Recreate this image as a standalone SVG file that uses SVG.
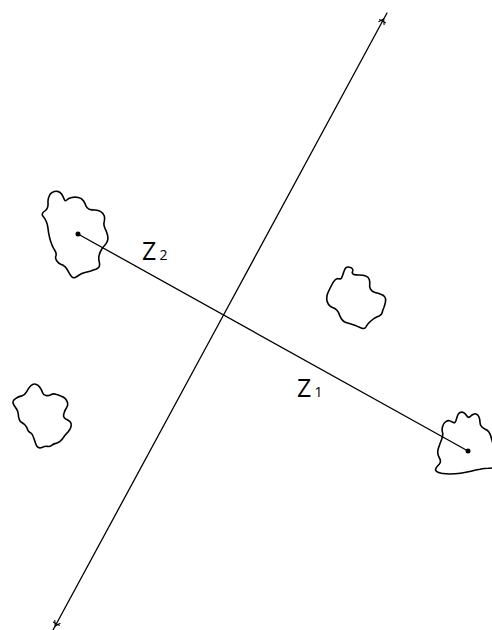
<svg xmlns="http://www.w3.org/2000/svg" width="492" height="630" viewBox="0 0 492 630">
<style>
.ln{fill:none;stroke:#000;stroke-width:1.3;stroke-linecap:round}
.cl{fill:none;stroke:#000;stroke-width:1.6;stroke-linejoin:round}
.dot{fill:#000}
.lbl{font-family:"Open Sans","DejaVu Sans",sans-serif;fill:#000}
</style>
<defs>
<marker id="tk" markerUnits="userSpaceOnUse" viewBox="-7 -7 14 14" markerWidth="14" markerHeight="14" refX="0" refY="0" orient="auto" overflow="visible">
<path d="M-5,-3.2 L0,0 L-5,3.2 M-2.5,-3.8 L-2.5,3.8" fill="none" stroke="#000" stroke-width="1.1"/>
</marker>
</defs>
<rect width="492" height="630" fill="#fff"/>
<g id="connectors">
<path class="ln" d="M220.3,321 L383.7,19 L387,13" marker-mid="url(#tk)"/>
<path class="ln" d="M220.3,321 L55.2,626 L51.9,632" marker-mid="url(#tk)"/>
<path class="ln" d="M78,234 L468,451"/>
</g>
<g id="cloud1">
<path class="cl" d="M48,202.5 Q47.7,200 48.9,196.7 Q50,193.3 52.5,192.2 Q55,191 57.5,191.4 Q60,191.7 61.7,194.2 Q63.3,196.7 64.2,199.2 Q65,201.7 66.7,200 Q68.3,198.3 71.7,197.5 Q75,196.7 78.4,197.5 Q81.7,198.3 83.4,200.8 Q85,203.3 85.9,205.8 Q86.7,208.3 89.2,209.2 Q91.7,210 95,210 Q98.3,210 100.8,211.7 Q103.3,213.3 104.2,215.8 Q105,218.3 104.2,221.7 Q103.3,225 105,228.4 Q106.7,231.7 107.5,235 Q108.3,238.3 107.5,240.8 Q106.7,243.3 105,245 Q103.3,246.7 101.7,249.2 Q100,251.7 99.2,255 Q98.3,258.3 99.2,261.7 Q100,265 99.2,266.7 Q98.3,268.3 95.8,269.2 Q93.3,270 90.8,270.9 Q88.3,271.7 85,272.5 Q81.7,273.3 79.2,275 Q76.7,276.7 75,277.5 Q73.3,278.3 71.7,276.7 Q70,275 68.4,271.7 Q66.7,268.3 65,266.7 Q63.3,265 60.8,264.2 Q58.3,263.3 56.7,260.8 Q55,258.3 55.9,255.8 Q56.7,253.3 55,250.8 Q53.3,248.3 51.7,244.2 Q50,240 49.2,235.9 Q48.3,231.7 48,228.4 Q47.7,225 46.4,221.7 Q45,218.3 43.4,216.7 Q41.7,215 42.5,213.4 Q43.3,211.7 45,210.9 Q46.7,210 47.5,207.5 Q48.3,205 48,202.5 Z"/>
<circle class="dot" cx="78" cy="234" r="2.5"/>
</g>
<g id="cloud2">
<path class="cl" d="M340.9,278.7 Q341.7,278.3 342.5,275.8 Q343.3,273.3 344.2,270.8 Q345,268.3 346.2,267.5 Q347.3,266.7 349.5,267.2 Q351.7,267.7 352.5,268.9 Q353.3,270 352.5,271.7 Q351.7,273.3 353.4,274.2 Q355,275 359.2,275 Q363.3,275 365.8,275.9 Q368.3,276.7 369.2,279.2 Q370,281.7 369.7,284.2 Q369.3,286.7 370.5,289.2 Q371.7,291.7 375,292.5 Q378.3,293.3 380.8,294.2 Q383.3,295 384.7,296.7 Q386,298.3 385.5,301.7 Q385,305 383.9,307.5 Q382.7,310 382.2,312.5 Q381.7,315 379.2,315.9 Q376.7,316.7 374.2,318.4 Q371.7,320 369.2,322.5 Q366.7,325 365.9,327 Q365,329 362.5,328.4 Q360,327.7 357.5,326.4 Q355,325 351.7,324.2 Q348.3,323.3 345.8,322.5 Q343.3,321.7 341.7,319.2 Q340,316.7 339.2,314.2 Q338.3,311.7 336.7,310 Q335,308.3 332.5,307.5 Q330,306.7 328.4,304.2 Q326.7,301.7 326.7,298.4 Q326.7,295 328.4,291.7 Q330,288.3 331.7,285 Q333.3,281.7 335,280 Q336.7,278.3 338.4,278.7 Q340,279 340.9,278.7 Z"/>
</g>
<g id="cloud3">
<path class="cl" d="M13,401.7 Q13.3,400 15.8,398.4 Q18.3,396.7 21.7,395.9 Q25,395 26.7,391.7 Q28.3,388.3 30.8,385.8 Q33.3,383.3 35.8,384.2 Q38.3,385 40,387.5 Q41.7,390 42.5,392.5 Q43.3,395 45.8,395.5 Q48.3,396 50.8,394.7 Q53.3,393.3 55.8,394.2 Q58.3,395 60.8,395.9 Q63.3,396.7 65,398.4 Q66.7,400 67.5,402.5 Q68.3,405 66.7,407.5 Q65,410 64.2,412.5 Q63.3,415 63.7,416.7 Q64,418.3 66.2,419.2 Q68.3,420 70,421.7 Q71.7,423.3 71.2,425.8 Q70.7,428.3 69.5,430 Q68.3,431.7 66.7,433.4 Q65,435 63.4,437.5 Q61.7,440 60,441.4 Q58.3,442.7 55.8,443.4 Q53.3,444 51.7,445.4 Q50,446.7 47.5,446.4 Q45,446 42.5,447.2 Q40,448.3 38.4,447.5 Q36.7,446.7 35.9,444.2 Q35,441.7 34.2,439.2 Q33.3,436.7 32.5,435 Q31.7,433.3 30,432.5 Q28.3,431.7 27.5,429.2 Q26.7,426.7 25,425 Q23.3,423.3 21.7,422.5 Q20,421.7 19.2,419.2 Q18.3,416.7 18.3,414.2 Q18.3,411.7 16.7,409.2 Q15,406.7 13.9,405 Q12.7,403.3 13,401.7 Z"/>
</g>
<g id="cloud4">
<path class="cl" d="M500,467 L496,467.5 Q492,468 488,468.3 Q484,468.5 480,469.3 Q476,470 471,471.3 Q466,472.5 460.5,473.3 Q455,474 450,474 Q445,474 441.5,473.3 Q438,472.5 436.5,471.3 Q435,470 435.9,468.4 Q436.7,466.7 439.2,464.2 Q441.7,461.7 439.2,457.5 Q436.7,453.3 438.4,448.3 Q440,443.3 441.7,439.2 Q443.3,435 442.5,432.5 Q441.7,430 442.5,426.7 Q443.3,423.3 445.8,421.7 Q448.3,420 450,420.9 Q451.7,421.7 453.4,422.5 Q455,423.3 455.9,420.8 Q456.7,418.3 457.5,415.8 Q458.3,413.3 460,412.5 Q461.7,411.7 463.4,412.5 Q465,413.3 466.7,415.8 Q468.3,418.3 470,416.7 Q471.7,415 473.4,414.2 Q475,413.3 476.7,414.2 Q478.3,415 479.2,417.5 Q480,420 480,422.5 Q480,425 481.7,426.7 Q483.3,428.3 485.3,429.2 Q487.3,430 488.7,431.7 Q490,433.3 490.7,435.8 Q491.3,438.3 492.7,442.7 Q494,447 497,451 L500,455"/>
<circle class="dot" cx="468" cy="451" r="2.5"/>
</g>
<g id="label-z2">
<text class="lbl" x="142" y="260" font-size="25">Z</text>
<text class="lbl" x="159.5" y="260" font-size="14">2</text>
</g>
<g id="label-z1">
<text class="lbl" x="297" y="397" font-size="25">Z</text>
<text class="lbl" x="314.5" y="397" font-size="14">1</text>
</g>
</svg>
